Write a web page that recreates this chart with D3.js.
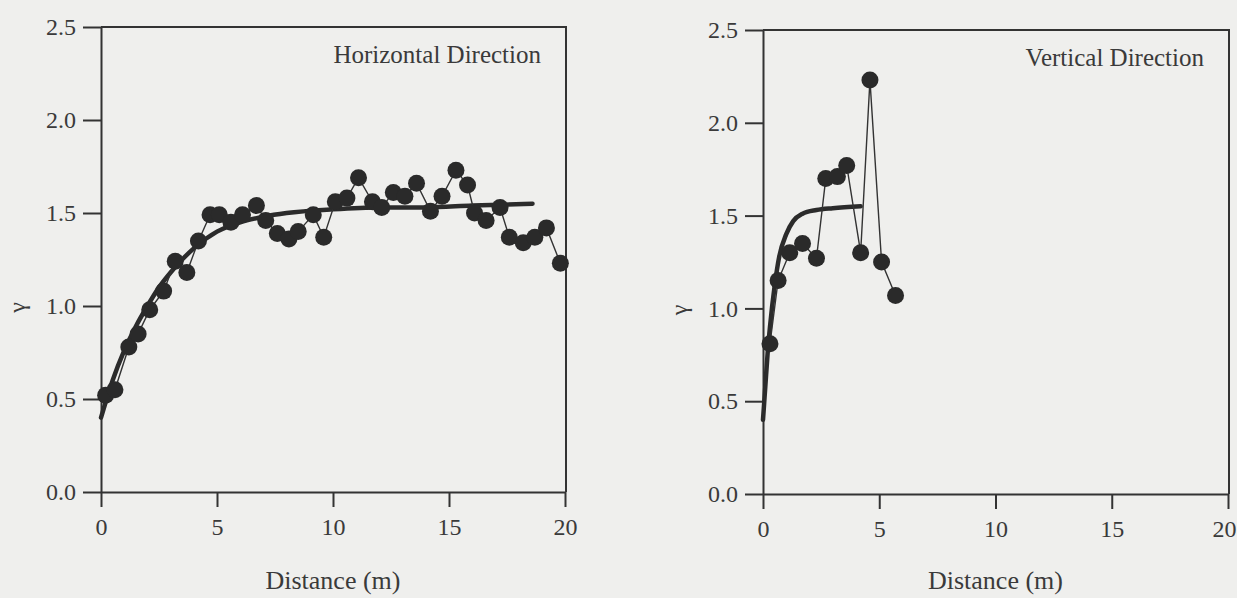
<!DOCTYPE html>
<html>
<head>
<meta charset="utf-8">
<script src="https://cdn.jsdelivr.net/npm/d3@7"></script>
<style>
  body { margin: 0; background: #efefed; }
  svg { display: block; }
  .axis text { font-family: "Liberation Serif", serif; font-size: 24px; fill: #3a3a3a; }
  .axis path, .axis line { stroke: #333; stroke-width: 2px; }
</style>
</head>
<body>
<div id="chart"></div>
<script>
// tick values shared by both panels
var xTicks = [0, 5, 10, 15, 20];
var yTicks = [0, 0.5, 1.0, 1.5, 2.0, 2.5];

// horizontal direction: measured variogram
var hDist  = [0.2, 0.6, 1.2, 1.6, 2.1, 2.7, 3.2, 3.7, 4.2, 4.7, 5.1, 5.6, 6.1, 6.7, 7.1, 7.6, 8.1, 8.5, 9.15, 9.6,
              10.1, 10.6, 11.1, 11.7, 12.1, 12.6, 13.1, 13.6, 14.2, 14.7, 15.3, 15.8, 16.1, 16.6, 17.2, 17.6, 18.2, 18.7, 19.2, 19.8];
var hGamma = [0.52, 0.55, 0.78, 0.85, 0.98, 1.08, 1.24, 1.18, 1.35, 1.49, 1.49, 1.45, 1.49, 1.54, 1.46, 1.39, 1.36, 1.40, 1.49, 1.37,
              1.56, 1.58, 1.69, 1.56, 1.53, 1.61, 1.59, 1.66, 1.51, 1.59, 1.73, 1.65, 1.50, 1.46, 1.53, 1.37, 1.34, 1.37, 1.42, 1.23];
// horizontal direction: fitted model
var hFitDist  = [0, 0.5, 1, 1.5, 2, 2.5, 3, 3.5, 4, 5, 6, 7, 8, 10, 12, 14, 16, 18.6];
var hFitGamma = [0.40, 0.60, 0.76, 0.89, 1.00, 1.10, 1.18, 1.25, 1.31, 1.40, 1.45, 1.48, 1.50, 1.52, 1.53, 1.53, 1.54, 1.55];

// vertical direction: measured variogram
var vDist  = [0.3, 0.65, 1.15, 1.7, 2.3, 2.7, 3.2, 3.6, 4.2, 4.6, 5.1, 5.7];
var vGamma = [0.81, 1.15, 1.30, 1.35, 1.27, 1.70, 1.71, 1.77, 1.30, 2.23, 1.25, 1.07];
// vertical direction: fitted model
var vFitDist  = [0, 0.1, 0.2, 0.3, 0.5, 0.7, 1.0, 1.3, 1.7, 2.3, 3.0, 4.2];
var vFitGamma = [0.40, 0.58, 0.76, 0.90, 1.12, 1.28, 1.40, 1.47, 1.51, 1.53, 1.54, 1.55];

var svg = d3.select('#chart')
  .append('svg')
  .attr('width', 1237)
  .attr('height', 598);

function drawPanel(opt) {
  var x = d3.scaleLinear().domain([0, 20]).range([opt.left, opt.right]);
  var y = d3.scaleLinear().domain([0, 2.5]).range([opt.bottom, opt.top]);

  // axes
  var xAxis = svg.append('g')
    .attr('class', 'axis')
    .attr('transform', 'translate(0,' + opt.bottom + ')')
    .call(d3.axisBottom(x).tickValues(xTicks).tickSize(15).tickSizeOuter(0).tickPadding(11).tickFormat(d3.format('d')));

  // keep the last label inside the page when the panel sits at the edge
  if (opt.tightRight) {
    xAxis.selectAll('.tick text')
      .filter(function(d) { return d === 20; })
      .attr('text-anchor', 'end')
      .attr('dx', 8);
  }

  svg.append('g')
    .attr('class', 'axis')
    .attr('transform', 'translate(' + opt.left + ',0)')
    .call(d3.axisLeft(y).tickValues(yTicks).tickSize(18).tickSizeOuter(0).tickPadding(7).tickFormat(d3.format('.1f')));

  // top and right frame
  svg.append('line')
    .attr('x1', x(0)).attr('x2', x(20) + 2)
    .attr('y1', y(2.5)).attr('y2', y(2.5))
    .attr('stroke', '#333').attr('stroke-width', 2);
  svg.append('line')
    .attr('x1', x(20) + 1).attr('x2', x(20) + 1)
    .attr('y1', y(2.5)).attr('y2', y(0))
    .attr('stroke', '#333').attr('stroke-width', 2);

  // fitted model (thick)
  var fit = opt.fitX.map(function(d, i) { return [d, opt.fitY[i]]; });
  svg.append('path')
    .datum(fit)
    .attr('fill', 'none')
    .attr('stroke', '#2b2b2b')
    .attr('stroke-width', 4.5)
    .attr('stroke-linecap', 'round')
    .attr('d', d3.line().curve(d3.curveMonotoneX)
      .x(function(d) { return x(d[0]); })
      .y(function(d) { return y(d[1]); }));

  // measured values, joined by a thin line
  var pts = opt.dist.map(function(d, i) { return [d, opt.gamma[i]]; });
  svg.append('path')
    .datum(pts)
    .attr('fill', 'none')
    .attr('stroke', '#333')
    .attr('stroke-width', 1.4)
    .attr('d', d3.line()
      .x(function(d) { return x(d[0]); })
      .y(function(d) { return y(d[1]); }));

  svg.append('g').selectAll('circle')
    .data(pts)
    .enter()
    .append('circle')
    .attr('cx', function(d) { return x(d[0]); })
    .attr('cy', function(d) { return y(d[1]); })
    .attr('r', 8.5)
    .attr('fill', '#2a2a2a');

  // labels
  svg.append('text')
    .attr('x', opt.right - 24)
    .attr('y', y(2.5) + 36)
    .attr('text-anchor', 'end')
    .style('font-family', '"Liberation Serif", serif')
    .style('font-size', '25px')
    .style('fill', '#3a3a3a')
    .text(opt.title);

  svg.append('text')
    .attr('x', (opt.left + opt.right) / 2)
    .attr('y', 589)
    .attr('text-anchor', 'middle')
    .style('font-family', '"Liberation Serif", serif')
    .style('font-size', '26px')
    .style('fill', '#3a3a3a')
    .text('Distance (m)');

  svg.append('text')
    .attr('transform', 'translate(' + (opt.left - 76) + ',' + ((opt.top + opt.bottom) / 2 + 48) + ') rotate(-90)')
    .attr('text-anchor', 'middle')
    .style('font-family', '"Liberation Serif", serif')
    .style('font-size', '24px')
    .style('fill', '#3a3a3a')
    .text('γ');
}

drawPanel({ left: 101, right: 565, top: 27, bottom: 492,
  dist: hDist, gamma: hGamma, fitX: hFitDist, fitY: hFitGamma, title: 'Horizontal Direction' });

drawPanel({ left: 763, right: 1228, top: 30, bottom: 494, tightRight: true,
  dist: vDist, gamma: vGamma, fitX: vFitDist, fitY: vFitGamma, title: 'Vertical Direction' });
</script>
</body>
</html>
